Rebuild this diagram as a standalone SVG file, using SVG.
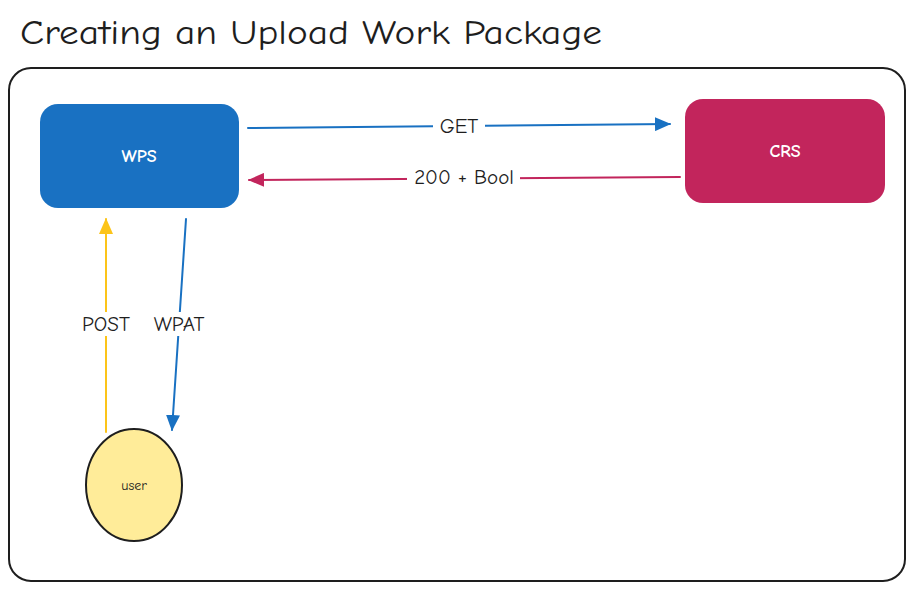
<svg xmlns="http://www.w3.org/2000/svg" width="914" height="591" viewBox="0 0 914 591">
<defs>
<style>
text{font-family:"Comic Neue","Liberation Sans","DejaVu Sans",sans-serif;}
.title{font-size:34px;fill:#1e1e1e;}
.lbl{font-size:21px;fill:#1e1e1e;text-anchor:middle;dominant-baseline:central;}
.ntxt{font-size:18px;fill:#ffffff;font-weight:bold;text-anchor:middle;dominant-baseline:central;}
.conn{fill:none;stroke-width:2;stroke-linecap:round;}
.lblbg{fill:#ffffff;}
</style>
<marker id="ab" viewBox="0 0 16 14" refX="15" refY="7" markerWidth="16" markerHeight="14" markerUnits="userSpaceOnUse" orient="auto"><path d="M0,0 L16,7 L0,14 Z" fill="#1971c2"/></marker>
<marker id="ar" viewBox="0 0 16 14" refX="15" refY="7" markerWidth="16" markerHeight="14" markerUnits="userSpaceOnUse" orient="auto"><path d="M0,0 L16,7 L0,14 Z" fill="#c2255c"/></marker>
<marker id="ay" viewBox="0 0 16 14" refX="15" refY="7" markerWidth="16" markerHeight="14" markerUnits="userSpaceOnUse" orient="auto"><path d="M0,0 L16,7 L0,14 Z" fill="#fcc419"/></marker>
</defs>
<rect width="914" height="591" fill="#ffffff"/>
<text class="title" x="20" y="44" textLength="582" lengthAdjust="spacingAndGlyphs">Creating an Upload Work Package</text>
<g id="frame"><rect x="9" y="68" width="896" height="513" rx="22" fill="none" stroke="#1e1e1e" stroke-width="2"/></g>
<g id="connectors">
<g id="get"><path class="conn" d="M248,128 L670,124" stroke="#1971c2" marker-end="url(#ab)"/><rect class="lblbg" x="433" y="115" width="52" height="22"/><text class="lbl" x="459" y="126">GET</text></g>
<g id="bool"><path class="conn" d="M680,177 L249,180" stroke="#c2255c" marker-end="url(#ar)"/><rect class="lblbg" x="407" y="166" width="113" height="24"/><text class="lbl" x="464" y="177">200 + Bool</text></g>
<g id="post"><path class="conn" d="M106,432 L106,219" stroke="#fcc419" marker-end="url(#ay)"/><rect class="lblbg" x="76" y="312" width="60" height="24"/><text class="lbl" x="106" y="324">POST</text></g>
<g id="wpat"><path class="conn" d="M186,219 L172,430" stroke="#1971c2" marker-end="url(#ab)"/><rect class="lblbg" x="148" y="312" width="62" height="24"/><text class="lbl" x="179" y="324">WPAT</text></g>
</g>
<g id="wps"><rect x="40" y="104" width="199" height="104" rx="18" fill="#1971c2"/><text class="ntxt" x="139" y="156">WPS</text></g>
<g id="crs"><rect x="685" y="99" width="200" height="104" rx="18" fill="#c2255c"/><text class="ntxt" x="785" y="151">CRS</text></g>
<g id="user"><ellipse cx="134" cy="485" rx="48" ry="56" fill="#ffec99" stroke="#1e1e1e" stroke-width="2"/><text x="134" y="485" font-size="14" fill="#1e1e1e" text-anchor="middle" dominant-baseline="central">user</text></g>
</svg>
